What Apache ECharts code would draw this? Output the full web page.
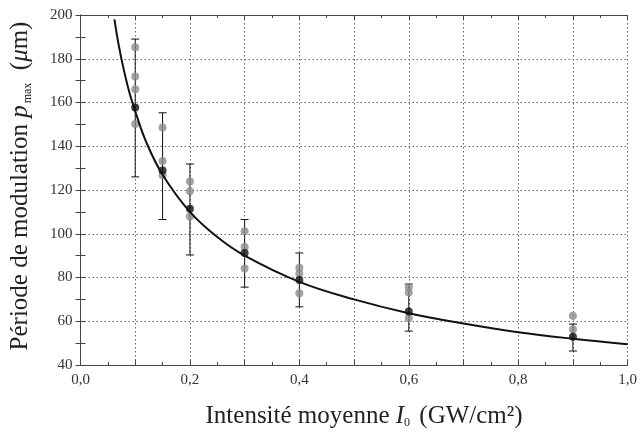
<!DOCTYPE html>
<html><head><meta charset="utf-8">
<script src="https://cdn.jsdelivr.net/npm/echarts@6/dist/echarts.min.js"></script>
<style>html,body{margin:0;padding:0;background:#fff}#c{width:640px;height:434px}</style>
</head><body><div id="c"></div>
<script>
// Intensities (GW/cm^2) of the measurement groups
const intensities = [0.1, 0.15, 0.2, 0.3, 0.4, 0.6, 0.9];
// Individual measurements (grey dots), one list per intensity
const measurements = [
  [185.3, 171.9, 166.1, 150.2],
  [148.6, 133.3, 126.7],
  [123.9, 119.4, 107.9],
  [101.2, 93.9, 84.1],
  [84.5, 81.8, 72.8],
  [75.6, 73.1, 61.4],
  [62.5, 56.4]
];
// Mean values (black dots)
const means = [157.7, 128.9, 111.4, 91.2, 78.9, 64.5, 52.9];
// Error bar extents
const errLow = [126, 106.5, 90.3, 75.6, 66.6, 55.5, 46.4];
const errHigh = [189, 155.3, 131.9, 106.5, 91.2, 77, 58.7];
// Fitted curve
const fitI = [0.062, 0.07, 0.08, 0.09, 0.1, 0.12, 0.15, 0.2, 0.25, 0.3, 0.4, 0.5, 0.6, 0.7, 0.8, 0.9, 1.0];
const fitP = [198, 186, 174, 164, 156, 142, 127, 110, 98.5, 90, 78, 70, 63.7, 59, 55, 52, 49.5];

const FONT = 'Liberation Serif';
const grey = [];
intensities.forEach((x, i) => measurements[i].forEach(v => grey.push([x, v])));
const meanData = intensities.map((x, i) => [x, means[i]]);
const errData = intensities.map((x, i) => [x, errLow[i], errHigh[i]]);
const fitData = fitI.map((x, i) => [x, fitP[i]]);

const axisLine = {show: true, lineStyle: {color: '#444', width: 1}};
const split = {show: true, lineStyle: {type: [1.5, 2.5], color: '#666', width: 1}};

const chart = echarts.init(document.getElementById('c'));
chart.setOption({
  animation: false,
  grid: {left: 80, right: 7, top: 15, bottom: 68},
  xAxis: [{
    type: 'value', min: 0, max: 1, interval: 0.1,
    axisLine, splitLine: split,
    axisTick: {inside: true, length: 5, lineStyle: {color: '#444'}},
    minorTick: {show: true, splitNumber: 2, length: 3, lineStyle: {color: '#444'}},
    axisLabel: {fontFamily: FONT, fontSize: 15, color: '#333', margin: 8,
      formatter: v => (Math.round(v * 10) % 2 === 0) ? v.toFixed(1).replace('.', ',') : ''},
    name: 'Intensité moyenne {i|I}{s|0} (GW/cm²)',
    nameLocation: 'middle', nameGap: 38, nameMoveOverlap: false,
    nameTextStyle: {fontFamily: FONT, fontSize: 25, color: '#222', padding: [0, 0, 0, 20],
      rich: {i: {fontFamily: FONT, fontSize: 25, fontStyle: 'italic', color: '#222'},
             s: {fontFamily: FONT, fontSize: 12, color: '#222', verticalAlign: 'bottom', padding: [14, 3, 0, 0]}}}
  }, {
    type: 'value', min: 0, max: 1, interval: 0.1, position: 'top',
    axisLine, splitLine: {show: false}, axisLabel: {show: false},
    axisTick: {inside: true, length: 5, lineStyle: {color: '#444'}},
    minorTick: {show: true, splitNumber: 2, length: 3, lineStyle: {color: '#444'}}
  }],
  yAxis: [{
    type: 'value', min: 40, max: 200, interval: 20,
    axisLine, splitLine: split,
    axisTick: {inside: true, length: 5, lineStyle: {color: '#444'}},
    minorTick: {show: true, splitNumber: 2, length: 5, lineStyle: {color: '#444'}},
    axisLabel: {fontFamily: FONT, fontSize: 15, color: '#333', margin: 8},
    name: 'Période de modulation {i|p}{s|max}  ({i|μ}m)',
    nameLocation: 'middle', nameGap: 47, nameMoveOverlap: false,
    nameTextStyle: {fontFamily: FONT, fontSize: 25, color: '#222', padding: [0, 0, 0, 8],
      rich: {i: {fontFamily: FONT, fontSize: 25, fontStyle: 'italic', color: '#222'},
             s: {fontFamily: FONT, fontSize: 12, color: '#222', verticalAlign: 'bottom', padding: [14, 0, 0, 2]}}}
  }, {
    type: 'value', min: 40, max: 200, interval: 20, position: 'right',
    axisLine, splitLine: {show: false}, axisLabel: {show: false},
    axisTick: {inside: true, length: 5, lineStyle: {color: '#444'}},
    minorTick: {show: true, splitNumber: 2, length: 5, lineStyle: {color: '#444'}}
  }],
  series: [
    {
      type: 'custom', data: errData, z: 2,
      renderItem: (params, api) => {
        const x = api.value(0);
        const lo = api.coord([x, api.value(1)]);
        const hi = api.coord([x, api.value(2)]);
        const w = 4;
        const st = {stroke: '#111', lineWidth: 1};
        return {type: 'group', children: [
          {type: 'line', shape: {x1: lo[0], y1: lo[1], x2: hi[0], y2: hi[1]}, style: st},
          {type: 'line', shape: {x1: lo[0] - w, y1: lo[1], x2: lo[0] + w, y2: lo[1]}, style: st},
          {type: 'line', shape: {x1: hi[0] - w, y1: hi[1], x2: hi[0] + w, y2: hi[1]}, style: st}
        ]};
      }
    },
    {type: 'scatter', data: grey, symbolSize: 8, z: 3, itemStyle: {color: '#8c8c8c'}},
    {type: 'line', data: fitData, smooth: 0.4, showSymbol: false, z: 4,
     lineStyle: {color: '#111', width: 2}},
    {type: 'scatter', data: meanData, symbolSize: 8, z: 5, itemStyle: {color: '#111'}}
  ]
});
</script></body></html>
